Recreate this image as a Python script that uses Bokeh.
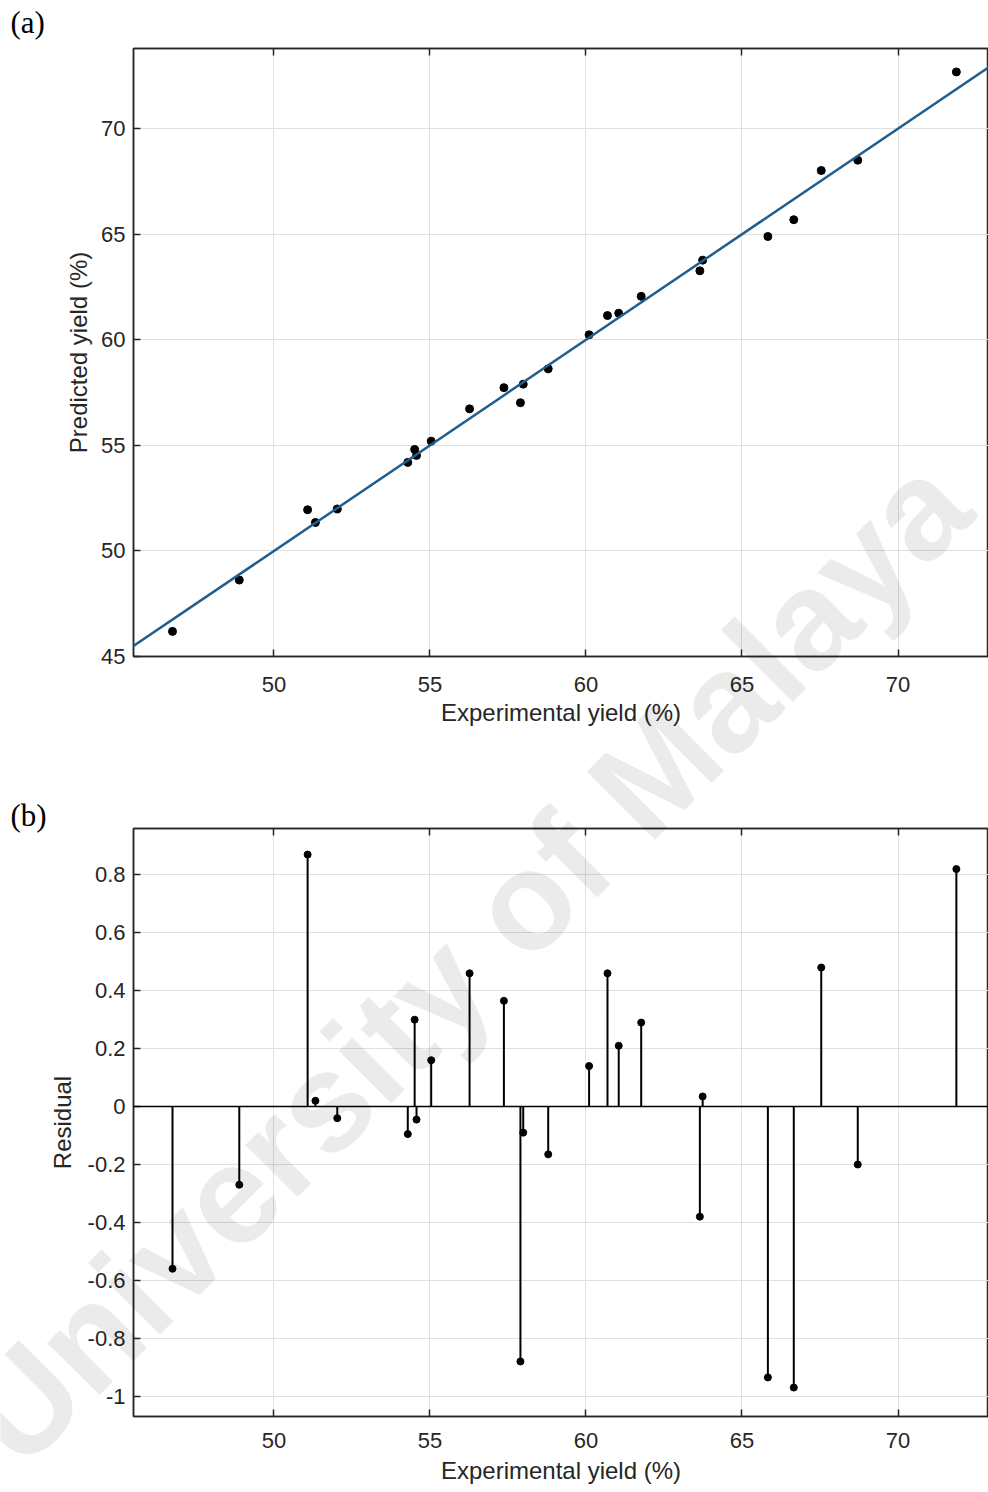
import numpy as np
from bokeh.core.properties import value
from bokeh.embed import file_html
from bokeh.layouts import column
from bokeh.models import FixedTicker, LinearAxis, Range1d, Slope, Span
from bokeh.plotting import figure
from bokeh.resources import INLINE

# Experimental yield (%) of each run
experimental = [46.75, 48.89, 51.08, 51.33, 52.03, 54.29, 54.51, 54.57, 55.04,
                56.27, 57.37, 57.90, 57.99, 58.79, 60.10, 60.69, 61.05, 61.77,
                63.65, 63.74, 65.83, 66.66, 67.54, 68.71, 71.87]
# Residual of each run (predicted - experimental)
residual = [-0.56, -0.27, 0.87, 0.02, -0.04, -0.095, 0.30, -0.045, 0.16,
            0.46, 0.365, -0.88, -0.09, -0.165, 0.14, 0.46, 0.21, 0.29,
            -0.38, 0.035, -0.935, -0.97, 0.48, -0.20, 0.82]

x_ticks = [50, 55, 60, 65, 70]
pred_ticks = [45, 50, 55, 60, 65, 70]
res_ticks = [-1, -0.8, -0.6, -0.4, -0.2, 0, 0.2, 0.4, 0.6, 0.8]
res_tick_labels = ["-1", "-0.8", "-0.6", "-0.4", "-0.2", "0", "0.2", "0.4", "0.6", "0.8"]

exp_arr = np.array(experimental)
predicted = exp_arr + np.array(residual)
fit_slope, fit_intercept = np.polyfit(exp_arr, predicted, 1)

# page geometry
PAGE_W = 988
LEFT = 133
TOP_H = 750
BOT_H = 742
X_RANGE = (45.5, 72.9)
Y_RANGE_A = (45.0, 73.8)
Y_RANGE_B = (-1.07, 0.96)
FRAME_A = (48, 656)      # page y of frame top / bottom
FRAME_B = (828, 1416)

INK = "#262626"
GRID = "#e0e0e0"
SANS = "Liberation Sans"


def make_fig(height, frame, page_top, yr, tick_standoff, label_standoff):
    p = figure(width=PAGE_W, height=height,
               x_range=Range1d(*X_RANGE), y_range=Range1d(*yr),
               output_backend="svg", toolbar_location=None,
               min_border_left=LEFT, min_border_right=0,
               min_border_top=frame[0] - page_top,
               min_border_bottom=page_top + height - frame[1])
    p.outline_line_color = INK
    p.outline_line_width = 1.5
    p.background_fill_color = "white"
    p.border_fill_color = "white"
    top = LinearAxis()
    p.add_layout(top, "above")
    for ax in p.axis:
        ax.axis_line_color = INK
        ax.axis_line_width = 1.5
        ax.major_tick_line_color = INK
        ax.major_tick_line_width = 1.5
        ax.major_tick_in = 7
        ax.major_tick_out = 0
        ax.minor_tick_line_color = None
        ax.major_label_text_font = SANS
        ax.major_label_text_font_size = "22px"
        ax.major_label_text_color = INK
        ax.axis_label_text_font = SANS
        ax.axis_label_text_font_style = "normal"
        ax.axis_label_text_color = INK
        ax.axis_label_text_font_size = "24px"
    top.ticker = FixedTicker(ticks=x_ticks)
    top.major_label_text_color = None
    top.major_label_standoff = 0
    for ax in p.below:
        ax.ticker = FixedTicker(ticks=x_ticks)
        ax.major_label_standoff = tick_standoff
        ax.axis_label = "Experimental yield (%)"
        ax.axis_label_standoff = label_standoff
    for ax in p.left:
        ax.major_label_standoff = 8
    p.xgrid.ticker = FixedTicker(ticks=x_ticks)
    p.grid.grid_line_color = GRID
    p.grid.grid_line_width = 1
    return p


# (a) predicted vs experimental
pa = make_fig(TOP_H, FRAME_A, 0, Y_RANGE_A, 20, 4)
pa.yaxis[0].ticker = FixedTicker(ticks=pred_ticks)
pa.ygrid.ticker = FixedTicker(ticks=pred_ticks)
pa.yaxis[0].axis_label = "Predicted yield (%)"
pa.yaxis[0].axis_label_standoff = 6
pa.scatter(experimental, predicted, size=8, color="black")
pa.add_layout(Slope(gradient=fit_slope, y_intercept=fit_intercept,
                    line_color="#1f5f8f", line_width=2.5))

# (b) residuals as stems
pb = make_fig(BOT_H, FRAME_B, TOP_H, Y_RANGE_B, 16, 6)
pb.yaxis[0].ticker = FixedTicker(ticks=res_ticks)
pb.ygrid.ticker = FixedTicker(ticks=res_ticks)
pb.yaxis[0].major_label_overrides = dict(zip(res_ticks, res_tick_labels))
pb.yaxis[0].axis_label = "Residual"
pb.yaxis[0].axis_label_standoff = 9
pb.add_layout(Span(location=0, dimension="width", line_color="black", line_width=1.5))
pb.segment(x0=experimental, y0=[0] * len(residual), x1=experimental, y1=residual,
           line_color="black", line_width=2)
pb.scatter(experimental, residual, size=7, color="black")

# transparent page-sized layer on top: panel tags and the translucent watermark
PAGE_H = TOP_H + BOT_H
ov = figure(width=PAGE_W, height=PAGE_H,
            x_range=Range1d(0, PAGE_W), y_range=Range1d(PAGE_H, 0),
            x_axis_type=None, y_axis_type=None,
            output_backend="svg", toolbar_location=None,
            min_border=0, outline_line_color=None,
            background_fill_color=None, border_fill_color=None)
ov.text(x=[465], y=[960], text=["University of Malaya"], angle=np.pi / 4,
        text_align="center", text_baseline="middle",
        text_font=value(SANS), text_font_style="bold",
        text_font_size="140px", text_color="black", text_alpha=0.08)
ov.text(x=[10, 10], y=[22, 815], text=["(a)", "(b)"],
        text_align="left", text_baseline="alphabetic",
        text_font=value("Liberation Serif"), text_font_size="31px",
        text_color="black")
ov.styles = {"position": "absolute", "top": "0px", "left": "0px",
             "pointer-events": "none"}

layout = column(pa, pb, spacing=0)
open("out.html", "w").write(file_html([layout, ov], INLINE))
